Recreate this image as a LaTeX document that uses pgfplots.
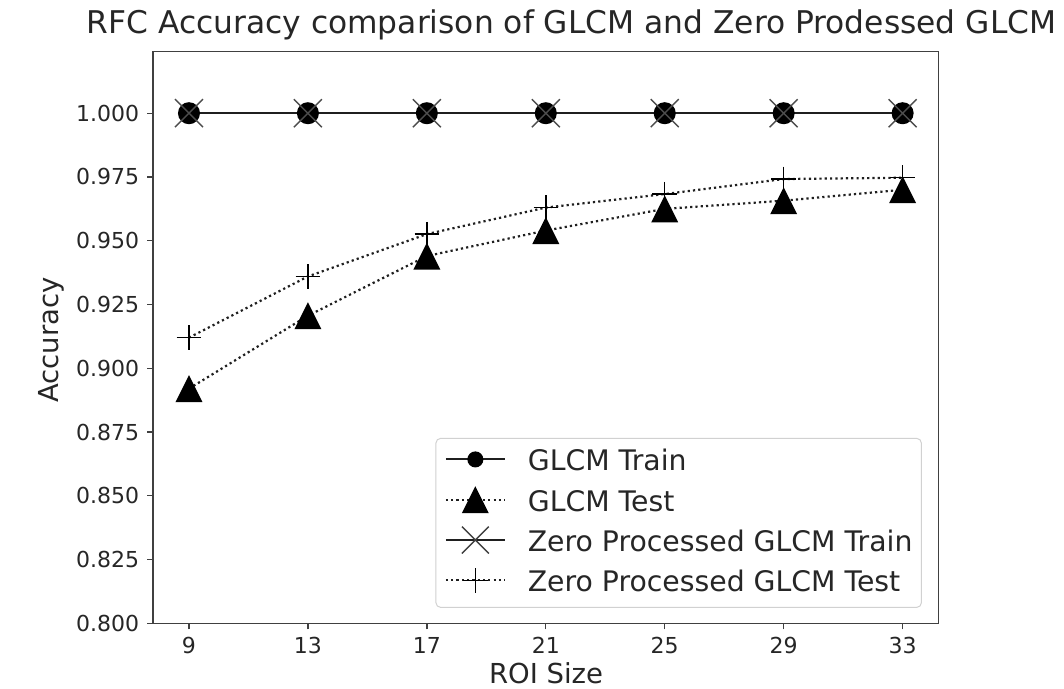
\documentclass[border=0pt]{standalone}
\usepackage{pgfplots}
\pgfplotsset{compat=1.18}
\usepackage{fontspec}
\setmainfont{DejaVu Sans}
\pgfdeclareplotmark{mtri}{%
  \pgfpathmoveto{\pgfqpoint{0pt}{\pgfplotmarksize}}%
  \pgfpathlineto{\pgfqpoint{-\pgfplotmarksize}{-\pgfplotmarksize}}%
  \pgfpathlineto{\pgfqpoint{\pgfplotmarksize}{-\pgfplotmarksize}}%
  \pgfpathclose\pgfusepathqfill}
\definecolor{axc}{gray}{0.25}
\definecolor{lnc}{gray}{0.12}
\begin{document}
\begin{tikzpicture}
\begin{axis}[
  scale only axis, width=785pt, height=571.8pt,
  xmin=7.8, xmax=34.2, ymin=0.8, ymax=1.0242,
  xtick={9,13,17,21,25,29,33},
  ytick={0.800,0.825,0.850,0.875,0.900,0.925,0.950,0.975,1.000},
  yticklabel style={/pgf/number format/fixed,/pgf/number format/precision=3,/pgf/number format/fixed zerofill},
  /pgf/number format/assume math mode=true,
  tick label style={font=\fontsize{22}{26}\selectfont, text=black!85},
  yticklabel style={anchor=east, inner sep=0pt, xshift=-8pt},
  xticklabel style={anchor=north, inner sep=0pt, yshift=-7.7pt},
  tick align=outside, major tick length=6pt,
  xtick pos=left, ytick pos=left,
  every tick/.style={axc, line width=1.3pt},
  axis line style={axc, line width=1.6pt},
  title={RFC Accuracy comparison of GLCM and Zero Prodessed GLCM},
  title style={font=\fontsize{31.3}{36}\selectfont, text=black!85, at={(axis description cs:0.5327,1)}, anchor=base, yshift=11.5pt, inner sep=0pt},
  xlabel={ROI Size},
  xlabel style={font=\fontsize{27.5}{32}\selectfont, text=black!85, at={(axis description cs:0.5003,0)}, anchor=base, yshift=-60.5pt, inner sep=0pt},
  ylabel={Accuracy},
  ylabel style={font=\fontsize{27.5}{32}\selectfont, text=black!85, at={(axis description cs:-0.1208,0.4955)}, anchor=base, inner sep=0pt},
  legend cell align=left,
  legend style={at={(axis description cs:0.9792,0.0268)}, anchor=south east,
    font=\fontsize{28.3}{33}\selectfont, text=black!85,
    draw=black!18, line width=1pt, rounded corners=5pt,
    inner xsep=9pt, inner ysep=4pt, row sep=0pt,
    nodes={inner sep=0pt, text height=28.5pt, text depth=11.8pt}},
  legend image code/.code={
    \path[use as bounding box, draw=none, fill=none, rounded corners=0pt] (0pt,-10pt) rectangle (83pt,10pt);
    \draw[mark repeat=2,mark phase=2,#1] plot coordinates {(1pt,3pt) (30.5pt,3pt) (60pt,3pt)};
  },
]
\pgfplotsset{
  trainline/.style={lnc, line width=2pt, solid},
  testline/.style={lnc, line width=2.2pt, dash pattern=on 2.2pt off 3.1pt},
}
\addlegendimage{trainline, mark=*, mark size=7pt, mark options={solid, fill=black, draw=black}}
\addlegendentry{GLCM Train}
\addlegendimage{testline, mark=mtri, mark size=13.5pt, mark options={solid, fill=black, draw=black}}
\addlegendentry{GLCM Test}
\addlegendimage{trainline, mark=x, mark size=19pt, mark options={solid, line width=1.4pt, draw=black!75}}
\addlegendentry{Zero Processed GLCM Train}
\addlegendimage{testline, mark=+, mark size=12.3pt, mark options={solid, line width=1.4pt, draw=black}}
\addlegendentry{Zero Processed GLCM Test}

\addplot[forget plot, trainline, mark=*, mark size=10pt, mark options={solid, fill=black, draw=black}]
  coordinates {(9,1.000) (13,1.000) (17,1.000) (21,1.000) (25,1.000) (29,1.000) (33,1.000)};
\addplot[forget plot, testline, mark=mtri, mark size=13.5pt, mark options={solid, fill=black, draw=black}]
  coordinates {(9,0.892) (13,0.9206) (17,0.944) (21,0.954) (25,0.9625) (29,0.9657) (33,0.970)};
\addplot[forget plot, trainline, mark=x, mark size=19.8pt, mark options={solid, line width=1.4pt, draw=black!70}]
  coordinates {(9,1.000) (13,1.000) (17,1.000) (21,1.000) (25,1.000) (29,1.000) (33,1.000)};
\addplot[forget plot, testline, mark=+, mark size=12.3pt, mark options={solid, line width=1.4pt, draw=black}]
  coordinates {(9,0.912) (13,0.936) (17,0.9526) (21,0.963) (25,0.9683) (29,0.9742) (33,0.9747)};
\coordinate (sw) at (rel axis cs:0,0);
\coordinate (ne) at (rel axis cs:1,1);
\end{axis}
\pgfresetboundingbox
\path[use as bounding box] ([shift={(-153.3pt,-64.7pt)}]sw) rectangle ([shift={(125.7pt,51.5pt)}]ne);
\end{tikzpicture}
\end{document}
